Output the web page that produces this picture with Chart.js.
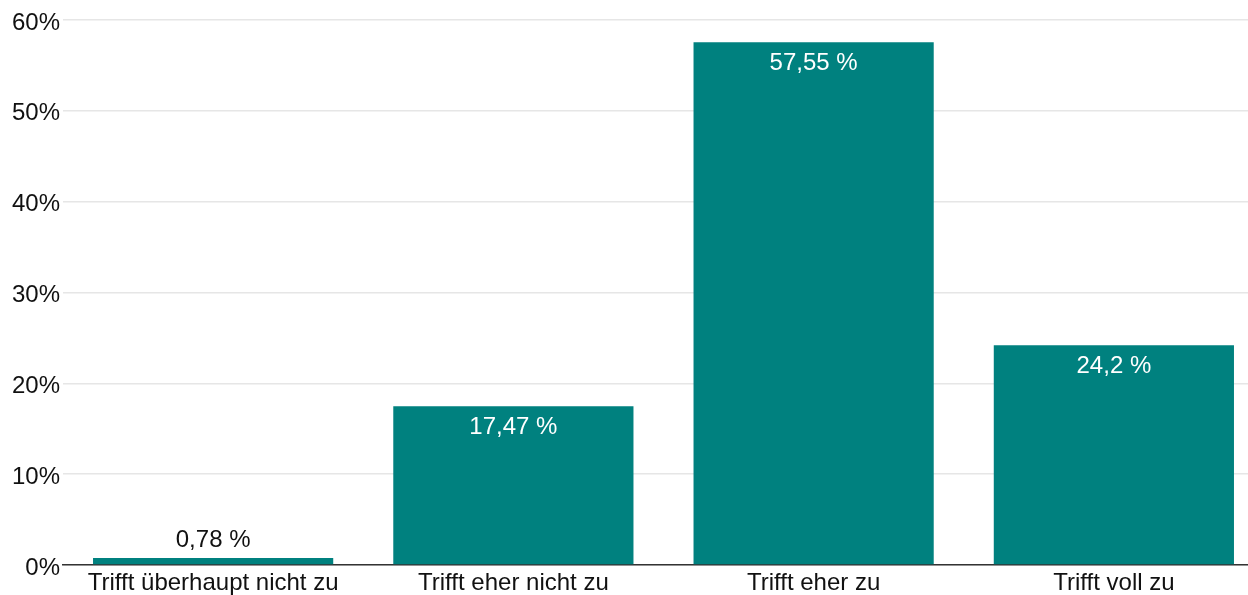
<!DOCTYPE html>
<html>
<head>
<meta charset="utf-8">
<script src="https://cdn.jsdelivr.net/npm/chart.js@4"></script>
<style>
  html, body { margin: 0; padding: 0; background: #fff; overflow: hidden; }
  #wrap { width: 1264px; height: 595px; position: relative; }
</style>
</head>
<body>
<div id="wrap"><canvas id="chart"></canvas></div>
<script>
const categories = ['Trifft überhaupt nicht zu', 'Trifft eher nicht zu', 'Trifft eher zu', 'Trifft voll zu'];
const shares = [0.78, 17.47, 57.55, 24.2];
const valueLabels = ['0,78 %', '17,47 %', '57,55 %', '24,2 %'];
const yTicks = [0, 10, 20, 30, 40, 50, 60];

const FONT = '"Liberation Sans", Arial, sans-serif';

// draws the value text on each bar (white inside, dark above small bars)
const barLabels = {
    id: 'barLabels',
    afterDatasetsDraw(chart) {
        const ctx = chart.ctx;
        const meta = chart.getDatasetMeta(0);
        ctx.save();
        ctx.font = '24px ' + FONT;
        ctx.textAlign = 'center';
        ctx.textBaseline = 'middle';
        meta.data.forEach((bar, i) => {
            const h = bar.base - bar.y;
            if (h > 40) {
                ctx.fillStyle = '#ffffff';
                ctx.fillText(valueLabels[i], bar.x, bar.y + 21);
            } else {
                ctx.fillStyle = '#111111';
                ctx.fillText(valueLabels[i], bar.x, bar.y - 18);
            }
        });
        ctx.restore();
    }
};

new Chart(document.getElementById('chart'), {
    type: 'bar',
    data: {
        labels: categories,
        datasets: [{
            data: shares,
            backgroundColor: '#00817f',
            barPercentage: 0.8,
            categoryPercentage: 1.0
        }]
    },
    options: {
        responsive: true,
        maintainAspectRatio: false,
        animation: false,
        layout: { padding: { top: 20, right: 0, left: 0, bottom: 0 } },
        plugins: {
            legend: { display: false },
            tooltip: { enabled: false }
        },
        scales: {
            x: {
                grid: { display: false, drawTicks: false },
                border: { color: '#333333', width: 1.5 },
                ticks: {
                    color: '#111111',
                    font: { family: FONT, size: 24 },
                    padding: 4,
                    maxRotation: 0
                },
                afterFit(scale) { scale.height = 30; }
            },
            y: {
                min: 0,
                max: 60,
                afterBuildTicks(scale) {
                    scale.ticks = yTicks.map(v => ({ value: v }));
                },
                grid: { color: '#e6e6e6', lineWidth: 1.5, drawTicks: false },
                border: { display: false },
                ticks: {
                    color: '#111111',
                    font: { family: FONT, size: 24 },
                    padding: 3,
                    labelOffset: 3,
                    callback: v => v + '%'
                },
                afterFit(scale) { scale.width = 63; }
            }
        }
    },
    plugins: [barLabels]
});
</script>
</body>
</html>
